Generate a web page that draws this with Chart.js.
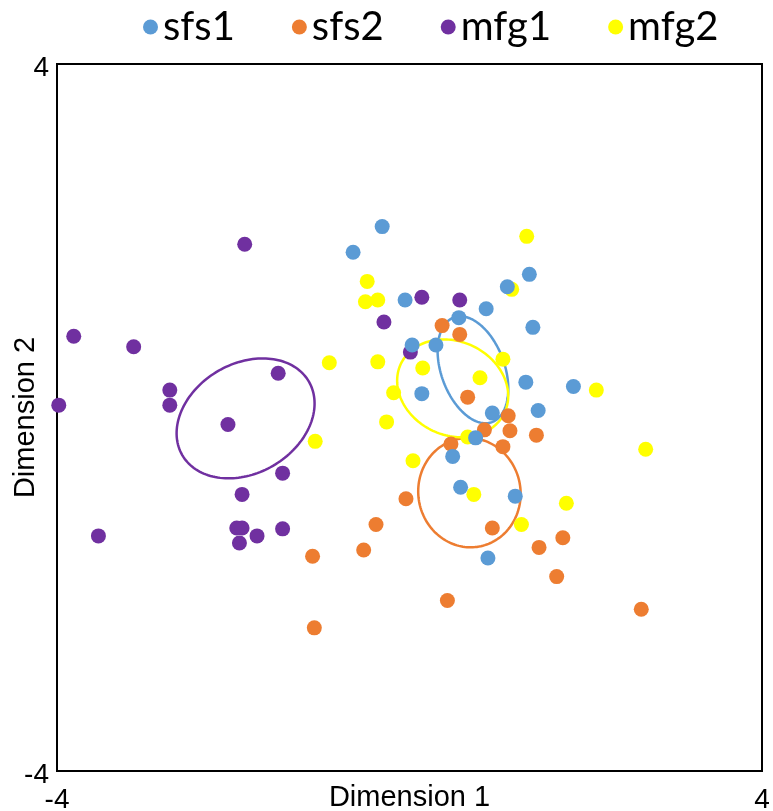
<!DOCTYPE html>
<html>
<head>
<meta charset="utf-8">
<script src="https://cdn.jsdelivr.net/npm/chart.js@4.4.0/dist/chart.umd.min.js"></script>
<style>
  html, body { margin: 0; padding: 0; background: #ffffff; }
  canvas { display: block; }
</style>
</head>
<body>
<canvas id="chart" width="773" height="811"></canvas>
<script>
// Series names and colours
const seriesNames  = ['sfs1', 'sfs2', 'mfg1', 'mfg2'];
const seriesColors = ['#5B9BD5', '#ED7D31', '#7030A0', '#FFFF00'];

// Sample scores on the two dimensions
const sfs1X = [-0.31, -0.64, -0.05, 1.11, 1.36, 0.87, 0.56, 1.40, 0.03, 0.30, 1.32, 1.86, 0.14, 1.46, 0.94, 0.75, 0.49, 0.58, 1.20, 0.89];
const sfs1Y = [ 2.16,  1.87,  1.33, 1.48, 1.62, 1.23, 1.13, 1.02, 0.82, 0.82, 0.40, 0.35, 0.27, 0.08, 0.05, -0.23, -0.44, -0.79, -0.89, -1.59];

const sfs2X = [0.37, 0.57, 0.66, 1.12, 1.14, 0.85, 1.44, 0.47, 1.06, -0.04, -0.38, 0.94, -0.52, -1.10, 1.47, 1.74, 1.67, 0.43, 2.63, -1.08];
const sfs2Y = [1.04, 0.94, 0.23, 0.02, -0.15, -0.14, -0.20, -0.30, -0.33, -0.92, -1.21, -1.25, -1.50, -1.57, -1.47, -1.36, -1.80, -2.07, -2.17, -2.38];

const mfg1X = [-1.87, -3.81, -3.13, -2.72, -2.72, -3.98, -1.49, -2.06, -1.44, -1.90, -1.96, -1.90, -1.93, -1.73, -1.44, -3.53, 0.14, 0.57, -0.29, 0.01];
const mfg1Y = [ 1.96,  0.92,  0.80,  0.31,  0.14,  0.14,  0.50, -0.08, -0.63, -0.87, -1.25, -1.25, -1.42, -1.34, -1.26, -1.34, 1.36, 1.33, 1.08, 0.74];

const mfg2X = [1.33, -0.48, -0.50, -0.36, 1.16, -0.91, -0.36, 0.15, 0.80, 1.06, 2.12, -0.18, -0.26, -1.07, 0.66, 0.04, 0.73, 1.78, 1.27, 2.68];
const mfg2Y = [2.05,  1.54,  1.31,  1.33, 1.45,  0.62,  0.63, 0.56, 0.45, 0.66, 0.31,  0.28, -0.05, -0.27, -0.22, -0.49, -0.87, -0.97, -1.21, -0.36];

// Group ellipses: centre, semi-axes (data units) and rotation (degrees)
const ellipseCx  = [0.72, 0.68, -1.86, 0.49];
const ellipseCy  = [0.54, -0.85, -0.01, 0.33];
const ellipseA   = [0.63, 0.62, 0.83, 0.65];
const ellipseB   = [0.36, 0.58, 0.62, 0.53];
const ellipseRot = [-70, -80, 30, -25];

// Axis range and the tick values that are labelled
const axisMin = -4;
const axisMax = 4;
const axisTicks = [-4, 4];

const seriesX = [sfs1X, sfs2X, mfg1X, mfg2X];
const seriesY = [sfs1Y, sfs2Y, mfg1Y, mfg2Y];

const datasets = seriesNames.map((name, i) => ({
  label: name,
  data: seriesX[i].map((x, k) => ({ x: x, y: seriesY[i][k] })),
  backgroundColor: seriesColors[i],
  borderColor: seriesColors[i],
  borderWidth: 0,
  pointRadius: 7.5,
  pointHoverRadius: 7.5,
  clip: false
}));

// Black frame round the plot area
const framePlugin = {
  id: 'plotFrame',
  beforeDatasetsDraw(chart) {
    const { ctx, chartArea: a } = chart;
    ctx.save();
    ctx.strokeStyle = '#000000';
    ctx.lineWidth = 2;
    ctx.strokeRect(a.left, a.top, a.right - a.left, a.bottom - a.top);
    ctx.restore();
  }
};

// Group ellipses, traced through the chart scales
const ellipsePlugin = {
  id: 'groupEllipses',
  beforeDatasetsDraw(chart) {
    const { ctx, scales: { x: xs, y: ys } } = chart;
    ctx.save();
    ctx.lineWidth = 2.5;
    for (let i = 0; i < seriesNames.length; i++) {
      const th = ellipseRot[i] * Math.PI / 180;
      const c = Math.cos(th), s = Math.sin(th);
      ctx.strokeStyle = seriesColors[i];
      ctx.beginPath();
      const steps = 160;
      for (let k = 0; k <= steps; k++) {
        const t = 2 * Math.PI * k / steps;
        const u = ellipseA[i] * Math.cos(t), v = ellipseB[i] * Math.sin(t);
        const px = xs.getPixelForValue(ellipseCx[i] + u * c - v * s);
        const py = ys.getPixelForValue(ellipseCy[i] + u * s + v * c);
        if (k === 0) ctx.moveTo(px, py); else ctx.lineTo(px, py);
      }
      ctx.closePath();
      ctx.stroke();
    }
    ctx.restore();
  }
};

// Legend row above the plot
const legendPlugin = {
  id: 'seriesLegend',
  afterDraw(chart) {
    const { ctx } = chart;
    const r = 7.5, gap = 5, spacing = 57;
    const cy = 27, baseline = 40;
    ctx.save();
    ctx.font = '40px Lato';
    ctx.textBaseline = 'alphabetic';
    ctx.textAlign = 'left';
    let x = 143;
    chart.data.datasets.forEach(ds => {
      ctx.fillStyle = ds.backgroundColor;
      ctx.beginPath();
      ctx.arc(x + r, cy, r, 0, 2 * Math.PI);
      ctx.fill();
      ctx.fillStyle = '#000000';
      const tx = x + 2 * r + gap;
      ctx.fillText(ds.label, tx, baseline);
      x = tx + ctx.measureText(ds.label).width + spacing;
    });
    ctx.restore();
  }
};

const onlyAxisTicks = s => { s.ticks = axisTicks.map(v => ({ value: v })); };

Chart.defaults.font.family = '"Liberation Sans", Arial, sans-serif';
Chart.defaults.color = '#000000';

new Chart(document.getElementById('chart'), {
  type: 'scatter',
  data: { datasets: datasets },
  options: {
    responsive: false,
    animation: false,
    devicePixelRatio: 1,
    layout: { autoPadding: false, padding: { top: 64, right: 11, bottom: 0, left: 0 } },
    plugins: {
      legend: { display: false },
      tooltip: { enabled: false }
    },
    scales: {
      x: {
        type: 'linear',
        min: axisMin,
        max: axisMax,
        grid: { display: false, drawTicks: false },
        border: { display: false },
        ticks: { font: { size: 28 }, color: '#000000', padding: 12, autoSkip: false, maxRotation: 0 },
        afterBuildTicks: onlyAxisTicks,
        title: { display: true, text: 'Dimension 1', font: { size: 29 }, color: '#000000', padding: { top: 0, bottom: -4 } },
        afterFit: s => { s.height = 40; s.paddingLeft = 0; s.paddingRight = 0; }
      },
      y: {
        type: 'linear',
        min: axisMin,
        max: axisMax,
        grid: { display: false, drawTicks: false },
        border: { display: false },
        ticks: { font: { size: 28 }, color: '#000000', padding: 8, labelOffset: 4, autoSkip: false },
        afterBuildTicks: onlyAxisTicks,
        title: { display: true, text: 'Dimension 2', font: { size: 29 }, color: '#000000', padding: { top: 9, bottom: 0 } },
        afterFit: s => { s.width = 57; s.paddingTop = 0; s.paddingBottom = 0; }
      }
    }
  },
  plugins: [framePlugin, ellipsePlugin, legendPlugin]
});
</script>
</body>
</html>
